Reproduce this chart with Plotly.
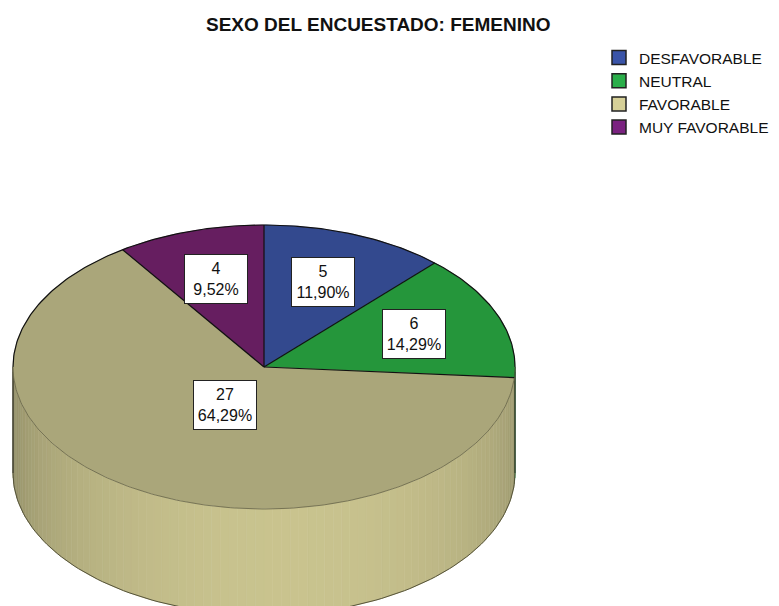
import numpy as np
import plotly.graph_objects as go

# ---- data ----
categories = ["DESFAVORABLE", "NEUTRAL", "FAVORABLE", "MUY FAVORABLE"]
counts = [5, 6, 27, 4]
title_text = "SEXO DEL ENCUESTADO: FEMENINO"

# ---- style ----
LEGEND_COLORS = ["#3a54a8", "#2aae4a", "#d6d098", "#7a2280"]
TOP_COLORS = ["#33498e", "#25963b", "#aaa67a", "#661e60"]
LABEL_RADIUS = [0.645, 0.64, 0.31, 0.645]
W, H = 779, 606
OFF = 8  # default page margin of the HTML body
CX, CY, RX, RY, DEPTH = 264, 367, 251, 142, 106
FONT = "Liberation Sans, Arial, sans-serif"


def px(xp):
    return (xp - OFF) / (W - OFF)


def py(yp):
    return 1 - (yp - OFF) / (H - OFF)


def hex_rgb(h):
    h = h.lstrip("#")
    return tuple(int(h[i:i + 2], 16) for i in (0, 2, 4))


def pt(theta_deg, dy=0.0):
    t = np.radians(theta_deg)
    return CX + RX * np.sin(t), CY - RY * np.cos(t) + dy


total = sum(counts)
fracs = [c / total for c in counts]
bounds = np.concatenate([[0], np.cumsum(fracs)]) * 360.0

fig = go.Figure()

# ---- side (front half of the cylinder) ----
grid = sorted(set(list(np.arange(90, 270.001, 2.0)) + [b for b in bounds if 90 < b < 270]))
for a0, a1 in zip(grid[:-1], grid[1:]):
    mid = 0.5 * (a0 + a1)
    k = int(np.searchsorted(bounds, mid) - 1)
    base = hex_rgb(LEGEND_COLORS[k])
    f = 0.70 + 0.24 * np.cos(np.radians(mid - 175))
    col = "rgb(%d,%d,%d)" % tuple(min(255, int(c * f)) for c in base)
    th = np.linspace(a0, a1, 4)
    xs_top, ys_top = pt(th)
    xs_bot, ys_bot = pt(th[::-1], DEPTH)
    xs = np.concatenate([xs_top, xs_bot, xs_top[:1]])
    ys = np.concatenate([ys_top, ys_bot, ys_top[:1]])
    fig.add_trace(go.Scatter(x=xs, y=ys, mode="lines", fill="toself", fillcolor=col,
                             line=dict(color=col, width=0.6), hoverinfo="skip",
                             showlegend=False))

# side edges
for a in (90, 270):
    x0, y0 = pt(a)
    fig.add_trace(go.Scatter(x=[x0, x0], y=[y0, y0 + DEPTH], mode="lines",
                             line=dict(color="#2a2a20", width=1.2), hoverinfo="skip",
                             showlegend=False))
thb = np.linspace(90, 270, 120)
xb, yb = pt(thb, DEPTH)
fig.add_trace(go.Scatter(x=xb, y=yb, mode="lines", line=dict(color="#55533a", width=1),
                         hoverinfo="skip", showlegend=False))

# ---- top face slices ----
for i, (a0, a1) in enumerate(zip(bounds[:-1], bounds[1:])):
    th = np.linspace(a0, a1, max(8, int((a1 - a0) * 1.5)))
    xa, ya = pt(th)
    xs = np.concatenate([[CX], xa, [CX]])
    ys = np.concatenate([[CY], ya, [CY]])
    fig.add_trace(go.Scatter(x=xs, y=ys, mode="lines", fill="toself",
                             fillcolor=TOP_COLORS[i], line=dict(color=TOP_COLORS[i], width=0.5),
                             hoverinfo="skip", showlegend=False))

# rim outlines: back half dark, front half faint
thr = np.linspace(-90, 90, 200)
xr, yr = pt(thr)
fig.add_trace(go.Scatter(x=xr, y=yr, mode="lines", line=dict(color="#111111", width=1.2),
                         hoverinfo="skip", showlegend=False))
thf = np.linspace(90, 270, 200)
xf, yf = pt(thf)
fig.add_trace(go.Scatter(x=xf, y=yf, mode="lines", line=dict(color="rgba(70,68,45,0.55)", width=1),
                         hoverinfo="skip", showlegend=False))
# radial edges
for b in bounds[:-1]:
    xe, ye = pt(b)
    fig.add_trace(go.Scatter(x=[CX, xe], y=[CY, ye], mode="lines",
                             line=dict(color="#111111", width=1.2), hoverinfo="skip",
                             showlegend=False))

# ---- legend entries ----
for i, name in enumerate(categories):
    fig.add_trace(go.Scatter(x=[None], y=[None], mode="markers", name=name,
                             legendgroup=name,
                             marker=dict(symbol="square", size=14, color=LEGEND_COLORS[i],
                                         line=dict(color="#222222", width=1.5))))

# ---- value labels ----
annotations = []
for i, c in enumerate(counts):
    mid = 0.5 * (bounds[i] + bounds[i + 1])
    t = np.radians(mid)
    lx = CX + LABEL_RADIUS[i] * RX * np.sin(t)
    ly = CY - LABEL_RADIUS[i] * RY * np.cos(t)
    pct = ("%.2f" % (fracs[i] * 100)).replace(".", ",")
    annotations.append(dict(x=lx, y=ly, xref="x", yref="y", text="%d<br>%s%%" % (c, pct),
                            showarrow=False, bgcolor="white", bordercolor="#222222",
                            borderwidth=1, borderpad=1, width=60, height=46,
                            font=dict(family=FONT, size=16, color="#111111")))

annotations.append(dict(x=px(378.5), y=py(25), xref="paper", yref="paper",
                        text="<b>%s</b>" % title_text, showarrow=False,
                        xanchor="center", yanchor="middle",
                        font=dict(family=FONT, size=19, color="#111111")))

fig.update_layout(
    width=W - OFF, height=H - OFF,
    margin=dict(l=0, r=0, t=0, b=0),
    paper_bgcolor="white", plot_bgcolor="white",
    xaxis=dict(range=[OFF, W], visible=False, fixedrange=True),
    yaxis=dict(range=[H, OFF], visible=False, fixedrange=True),
    showlegend=True,
    legend=dict(x=px(599), y=py(41), xanchor="left", yanchor="top",
                font=dict(family=FONT, size=15.5, color="#111111"),
                bgcolor="rgba(0,0,0,0)", tracegroupgap=0, itemclick=False,
                itemdoubleclick=False),
    annotations=annotations,
    hovermode=False,
)

fig.write_html("out.html")
